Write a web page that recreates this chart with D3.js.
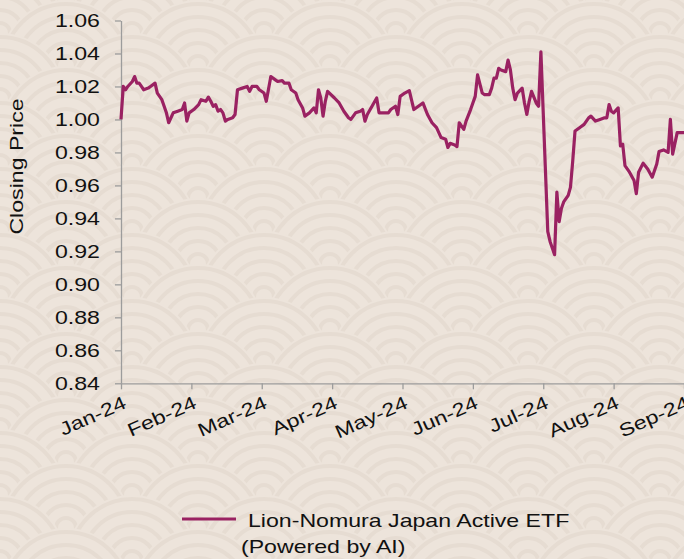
<!DOCTYPE html>
<html>

<head>
    <meta charset="utf-8">
    <style>
    body {
        margin: 0;
        background: #ede4db;
    }

    text {
        font-family: "Liberation Sans", Arial, sans-serif;
        font-size: 18.5px;
        fill: #111;
    }

    .axis path,
    .axis line {
        stroke: #9c9c9c;
        stroke-width: 1.3px;
    }
    </style>
</head>

<body>
    <script src="https://d3js.org/d3.v7.min.js"></script>
    <script>
    // month tick labels
    var monthLabels = ["Jan-24", "Feb-24", "Mar-24", "Apr-24", "May-24", "Jun-24", "Jul-24", "Aug-24", "Sep-24"];

    var yTicks = [0.84, 0.86, 0.88, 0.90, 0.92, 0.94, 0.96, 0.98, 1.00, 1.02, 1.04, 1.06];

    var seriesName = ["Lion-Nomura Japan Active ETF", "(Powered by AI)"];

    var dates = [
        "2024-01-01", "2024-01-02", "2024-01-03", "2024-01-04", "2024-01-06", "2024-01-07", "2024-01-08", "2024-01-09",
        "2024-01-10", "2024-01-11", "2024-01-13", "2024-01-14", "2024-01-16", "2024-01-17", "2024-01-19", "2024-01-21",
        "2024-01-22", "2024-01-24", "2024-01-26", "2024-01-28", "2024-01-29", "2024-01-30", "2024-01-31",
        "2024-02-02", "2024-02-04", "2024-02-05", "2024-02-07", "2024-02-08", "2024-02-09", "2024-02-10", "2024-02-11",
        "2024-02-12", "2024-02-13", "2024-02-14", "2024-02-15", "2024-02-16", "2024-02-18", "2024-02-19", "2024-02-20",
        "2024-02-22", "2024-02-24", "2024-02-25", "2024-02-26", "2024-02-28", "2024-02-29",
        "2024-03-02", "2024-03-03", "2024-03-05", "2024-03-07", "2024-03-08", "2024-03-10", "2024-03-11", "2024-03-13",
        "2024-03-14", "2024-03-16", "2024-03-17", "2024-03-19", "2024-03-20", "2024-03-22", "2024-03-24", "2024-03-25",
        "2024-03-26", "2024-03-27", "2024-03-28", "2024-03-29", "2024-03-30",
        "2024-04-02", "2024-04-04", "2024-04-06", "2024-04-08", "2024-04-09", "2024-04-11", "2024-04-13", "2024-04-14",
        "2024-04-15", "2024-04-16", "2024-04-18", "2024-04-20", "2024-04-21", "2024-04-24", "2024-04-25", "2024-04-26",
        "2024-04-28", "2024-04-29", "2024-04-30",
        "2024-05-02", "2024-05-04", "2024-05-06", "2024-05-08", "2024-05-10", "2024-05-12", "2024-05-14", "2024-05-16",
        "2024-05-18", "2024-05-20", "2024-05-21", "2024-05-22", "2024-05-24", "2024-05-25", "2024-05-26", "2024-05-28",
        "2024-05-29", "2024-05-31",
        "2024-06-01", "2024-06-02", "2024-06-03", "2024-06-05", "2024-06-06", "2024-06-08", "2024-06-09", "2024-06-10",
        "2024-06-11", "2024-06-12", "2024-06-13", "2024-06-15", "2024-06-16", "2024-06-17", "2024-06-18", "2024-06-19",
        "2024-06-20", "2024-06-22", "2024-06-23", "2024-06-24", "2024-06-25", "2024-06-26", "2024-06-28", "2024-06-29",
        "2024-06-30",
        "2024-07-03", "2024-07-04", "2024-07-06", "2024-07-07", "2024-07-08", "2024-07-09", "2024-07-10", "2024-07-12",
        "2024-07-13", "2024-07-14", "2024-07-15", "2024-07-17", "2024-07-19", "2024-07-21", "2024-07-22", "2024-07-24",
        "2024-07-26", "2024-07-28", "2024-07-29", "2024-07-30", "2024-07-31",
        "2024-08-01", "2024-08-03", "2024-08-04", "2024-08-05", "2024-08-06", "2024-08-08", "2024-08-10", "2024-08-11",
        "2024-08-12", "2024-08-14", "2024-08-16", "2024-08-18", "2024-08-20", "2024-08-21", "2024-08-23", "2024-08-25",
        "2024-08-26", "2024-08-27", "2024-08-29", "2024-08-31", "2024-09-01"
    ];

    var closes = [
        1.000, 1.020, 1.018, 1.020, 1.023, 1.026, 1.022, 1.022,
        1.020, 1.018, 1.019, 1.020, 1.022, 1.016, 1.012, 1.004,
        0.998, 1.004, 1.005, 1.006, 1.010, 0.999, 1.004,
        1.006, 1.009, 1.012, 1.011, 1.0135, 1.011, 1.008, 1.009,
        1.005, 1.006, 1.004, 0.999, 1.000, 1.001, 1.003, 1.018,
        1.019, 1.020, 1.017, 1.020, 1.020, 1.018,
        1.016, 1.011, 1.026, 1.024, 1.023, 1.0235, 1.022, 1.022,
        1.018, 1.016, 1.012, 1.007, 1.002, 1.004, 1.007, 1.004,
        1.018, 1.013, 1.002, 1.011, 1.017,
        1.013, 1.010, 1.005, 1.001, 1.000, 1.004, 1.005, 1.006,
        0.999, 1.003, 1.008, 1.013, 1.004, 1.004, 1.004, 1.006,
        1.008, 1.003, 1.014,
        1.016, 1.0175, 1.006, 1.008, 1.010, 1.003, 0.998, 0.995,
        0.989, 0.988, 0.983, 0.9855, 0.9845, 0.9835, 0.998, 0.994,
        0.999, 1.006,
        1.010, 1.014, 1.027, 1.016, 1.015, 1.015, 1.019, 1.025,
        1.025, 1.031, 1.030, 1.029, 1.036, 1.030, 1.019, 1.012,
        1.016, 1.019, 1.010, 1.003, 1.011, 1.017, 1.010, 1.008,
        1.041,
        0.932, 0.926, 0.918, 0.956, 0.938, 0.946, 0.950, 0.954,
        0.959, 0.975, 0.993, 0.995, 0.997, 1.001, 1.002, 0.999,
        1.000, 1.001, 1.001, 1.009, 1.005,
        1.004, 1.007, 0.984, 0.985, 0.972, 0.968, 0.963, 0.955,
        0.968, 0.9735, 0.970, 0.965, 0.973, 0.9805, 0.9815, 0.980,
        1.000, 0.979, 0.992, 0.992, 0.992
    ];

    var width = 684, height = 559;
    var stretch = 1.25; // the text in the chart is drawn wide

    var svg = d3.select("body").append("svg")
        .attr("width", width)
        .attr("height", height);

    // background with faint wave pattern
    var bg = svg.append("g");
    bg.append("rect")
        .attr("width", width)
        .attr("height", height)
        .attr("fill", "#ede4db");

    var R = 66;
    for (var row = 0; row < 22; row++) {
        for (var col = -1; col < 7; col++) {
            var cx = col * 2 * R + (row % 2 ? R : 0);
            var cy = row * R / 2 - R / 2;
            var fan = bg.append("g").attr("transform", "translate(" + cx + "," + cy + ")");
            fan.append("circle").attr("r", R).attr("fill", "#ede4db");
            [R - 4, R - 17, R - 30, R - 43, R - 56].forEach(function(r) {
                fan.append("circle")
                    .attr("r", r)
                    .attr("fill", "none")
                    .attr("stroke", "#e6dcd2")
                    .attr("stroke-width", 4);
            });
        }
    }

    var data = dates.map(function(d, i) {
        return { date: d3.timeParse("%Y-%m-%d")(d), value: closes[i] };
    });

    // each month takes the same width on the axis
    var x = d3.scaleLinear()
        .domain([0, monthLabels.length - 1])
        .range([121, 684]);

    var y = d3.scaleLinear()
        .domain([0.84, 1.06])
        .range([383.3, 20.5]);

    function monthPos(date) {
        var days = new Date(date.getFullYear(), date.getMonth() + 1, 0).getDate();
        return date.getMonth() + (date.getDate() - 1) / days;
    }

    var yAxis = svg.append("g")
        .attr("class", "axis")
        .attr("transform", "translate(121,0)")
        .call(d3.axisLeft(y)
            .tickValues(yTicks)
            .tickFormat(d3.format(".2f"))
            .tickSize(6)
            .tickSizeOuter(0));
    yAxis.selectAll(".tick text")
        .attr("x", null)
        .attr("dy", "0.35em")
        .attr("transform", "translate(-21,0) scale(" + stretch + ",1)");

    var xAxis = svg.append("g")
        .attr("class", "axis")
        .attr("transform", "translate(0,383.3)")
        .call(d3.axisBottom(x)
            .tickValues(d3.range(monthLabels.length))
            .tickFormat(function(i) {
                return monthLabels[i];
            })
            .tickSize(6)
            .tickSizeOuter(0));
    xAxis.selectAll(".tick text")
        .attr("y", null)
        .attr("dy", null)
        .style("text-anchor", "end")
        .attr("transform", "translate(6,24) rotate(-24) scale(" + stretch + ",1)");

    svg.selectAll(".axis text").attr("fill", "#111");

    var line = d3.line()
        .x(function(d) {
            return x(monthPos(d.date));
        })
        .y(function(d) {
            return y(d.value);
        });

    svg.append("path")
        .datum(data)
        .attr("fill", "none")
        .attr("stroke", "#9a2262")
        .attr("stroke-width", 3.2)
        .attr("stroke-linejoin", "round")
        .attr("d", line);

    // y title
    svg.append("text")
        .attr("text-anchor", "middle")
        .attr("transform", "translate(23,166.5) rotate(-90) scale(" + stretch + ",1)")
        .text("Closing Price");

    // legend
    var legend = svg.append("g");
    legend.append("line")
        .attr("x1", 182)
        .attr("x2", 236)
        .attr("y1", 519)
        .attr("y2", 519)
        .attr("stroke", "#9a2262")
        .attr("stroke-width", 3.2);
    legend.append("text")
        .attr("transform", "translate(248,527) scale(" + stretch + ",1)")
        .text(seriesName[0]);
    legend.append("text")
        .attr("transform", "translate(241,553) scale(" + stretch + ",1)")
        .text(seriesName[1]);
    </script>
</body>

</html>
